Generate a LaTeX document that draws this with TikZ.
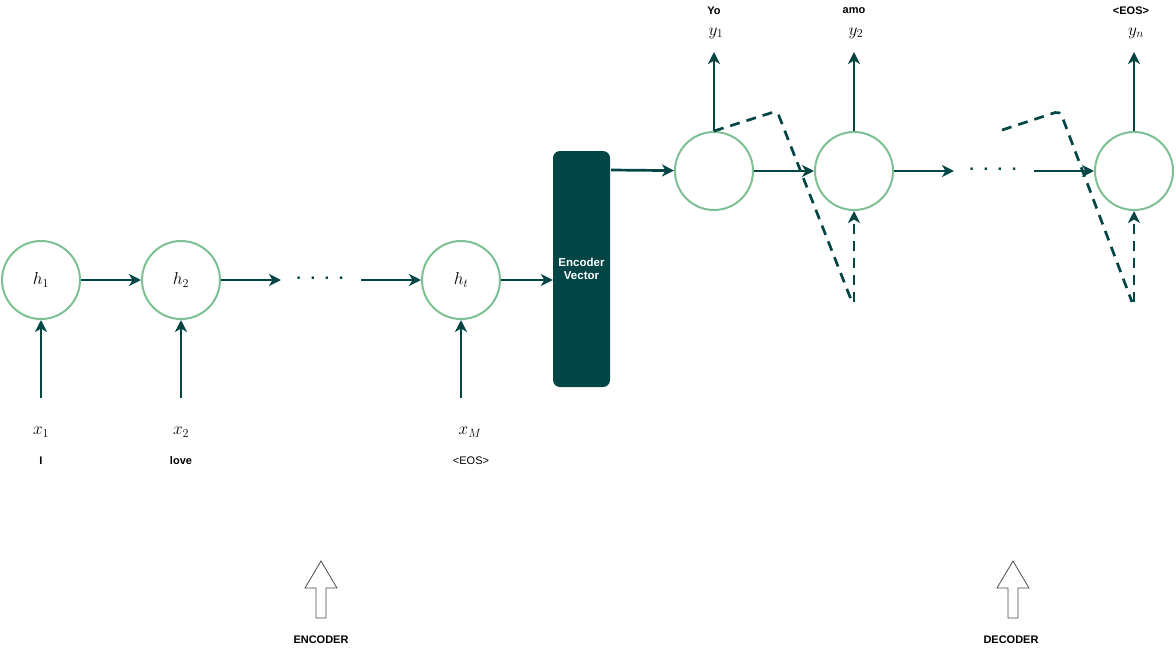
\documentclass[tikz,border=0pt]{standalone}
\usepackage{fontspec}
\setsansfont{Liberation Sans}
\usetikzlibrary{arrows.meta,calc}
\definecolor{deepteal}{RGB}{3,70,69}
\definecolor{mint}{RGB}{125,192,148}
\begin{document}
\begin{tikzpicture}[x=1pt,y=-1pt,
	cell/.style={circle,draw=mint,line width=2pt,minimum size=78pt,inner sep=0pt,font=\fontsize{17}{20}\selectfont},
	link/.style={draw=deepteal,line width=2.7pt,-{Stealth[length=12pt,width=12pt,inset=3.5pt]}},
	feed/.style={link,dash pattern=on 10pt off 7pt},
	word/.style={font=\sffamily\bfseries\fontsize{11}{13}\selectfont,inner sep=1pt},
	sym/.style={font=\fontsize{17}{20}\selectfont,inner sep=1pt},
	dots/.style={font=\sffamily\bfseries\fontsize{17}{20}\selectfont,text=deepteal,inner sep=0pt},
	bigarrow/.style={draw=black!70,line width=0.8pt,fill=white}]
\useasboundingbox (0,0) rectangle (1176,651);
\node[cell] (h1) at (41,280) {$h_1$};
\node[cell] (h2) at (181,280) {$h_2$};
\node[dots] (edots) at (320,278) {.\ \ .\ \ .\ \ .};
\coordinate (eout) at (281,280);
\coordinate (ein) at (361,280);
\node[cell] (ht) at (461,280) {$h_t$};
\node[rectangle,rounded corners=7pt,fill=deepteal,minimum width=57pt,minimum height=236pt,text=white,align=center,font=\sffamily\bfseries\fontsize{11.5}{13}\selectfont] (vec) at (581.5,269) {Encoder\\Vector};
\foreach \n/\x/\s/\w in {x1/41/x_1/I,x2/181/x_2/love}{
	\coordinate (\n) at (\x,398);
	\node[sym] (\n s) at (\x,432) {$\s$};
	\node[word] (\n w) at (\x,461) {\w};
}
\coordinate (x3) at (461,398);
\node[sym] (x3s) at (470,432) {$x_M$};
\node[word,font=\sffamily\fontsize{11}{13}\selectfont] (x3w) at (471,461) {<EOS>};
\draw[link] (h1) -- (h2);
\draw[link] (h2) -- (eout);
\draw[link] (ein) -- (ht);
\draw[link] (ht) -- (vec.west |- ht);
\draw[link] (x1) -- (h1);
\draw[link] (x2) -- (h2);
\draw[link] (x3) -- (ht);
\node[cell] (d1) at (714,171) {};
\node[cell] (d2) at (854,171) {};
\node[dots] (ddots) at (993,169) {.\ \ .\ \ .\ \ .};
\coordinate (dout) at (954,171);
\coordinate (din) at (1034,171);
\node[cell] (d3) at (1134,171) {};
\coordinate (vout) at (611,170);
\draw[link] (vout) -- (d1);
\draw[link] (d1) -- (d2);
\draw[link] (d2) -- (dout);
\draw[link] (din) -- (d3);
\foreach \n/\s/\w/\o in {d1/y_1/Yo/0,d2/y_2/amo/0,d3/y_n/<EOS>/-3}{
	\draw[link] (\n.north) -- ++(0,-79);
	\node[sym] at ($(\n)+(2,-138)$) {$\s$};
	\node[word] at ($(\n)+(\o,-160)$) {\w};
}
\coordinate (f1) at (777,111);
\coordinate (f2) at (852,302);
\coordinate (f3) at (854,302);
\coordinate (g0) at (1002,130);
\coordinate (g1) at (1060,111);
\coordinate (g2) at (1132,302);
\coordinate (g3) at (1134,302);
\draw[feed,-] (d1.north) [rounded corners=5pt] -- (f1) [sharp corners] -- (f2);
\draw[feed] (f3) -- (d2);
\draw[feed,-] (g0) [rounded corners=5pt] -- (g1) [sharp corners] -- (g2);
\draw[feed] (g3) -- (d3);
\draw[bigarrow] (316,618) -- (316,588) -- (305,588) -- (321,561) -- (337,588) -- (326,588) -- (326,618) -- cycle;
\node[word] (enc) at (321,640) {ENCODER};
\draw[bigarrow] (1008,618) -- (1008,588) -- (997,588) -- (1013,561) -- (1029,588) -- (1018,588) -- (1018,618) -- cycle;
\node[word] (dec) at (1011,640) {DECODER};
\end{tikzpicture}
\end{document}
